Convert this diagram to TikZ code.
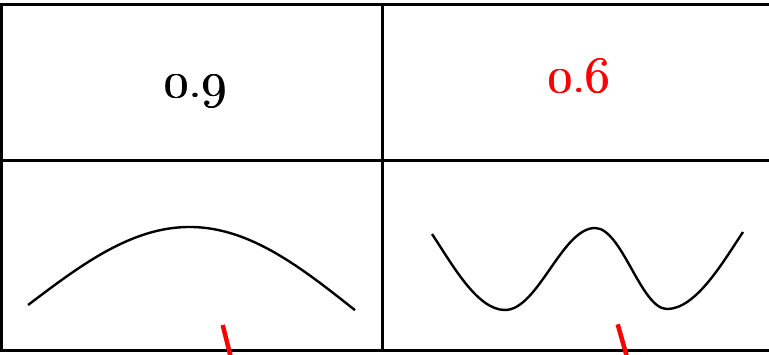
\RequirePackage{fix-cm}
\documentclass[tikz,border=0pt]{standalone}
\newcommand{\osdig}[1]{{\usefont{OML}{cmm}{m}{it}#1}}
\newcommand{\thickish}[1]{\rlap{#1}\kern0.5pt\rlap{#1}\kern0.5pt#1}
\begin{document}
\begin{tikzpicture}[x=1pt,y=-1pt,
  gridline/.style={line width=3pt,black},
  curveline/.style={line width=2.4pt,black,line join=round},
  redtick/.style={line width=4.5pt,red},
  valtext/.style={font=\fontsize{51}{56}\selectfont, inner sep=0pt, anchor=base}]
\useasboundingbox (0,0) rectangle (769,354);
% table lines
\draw[gridline] (771,4.5) -- (1.5,4.5) -- (1.5,350.5) -- (771,350.5);
\draw[gridline] (382.5,4.5) -- (382.5,350.5);
\draw[gridline] (1.5,160.8) -- (771,160.8);
% values
\node[valtext] (v1) at (195.5,97) {\thickish{\osdig{0}.\osdig{9}}};
\node[valtext,text=red] (v2) at (579,92) {\thickish{\osdig{0}.\osdig{6}}};
% curves
\draw[curveline] plot[domain=-164:163,samples=90,smooth]
  ({192+\x},{227+81*(1-cos(90*\x/164))+0.018*\x});
\draw[curveline] (432,234) .. controls (452,264) and (477,310) .. (505,310)
  .. controls (538,310) and (562,228) .. (595,228)
  .. controls (622,228) and (641,309) .. (667,309)
  .. controls (696,309) and (723,262) .. (743,232);
% red ticks
\draw[redtick] (222.7,325) -- (230.5,356);
\draw[redtick] (617.7,324.3) -- (626.7,356);
\end{tikzpicture}
\end{document}
